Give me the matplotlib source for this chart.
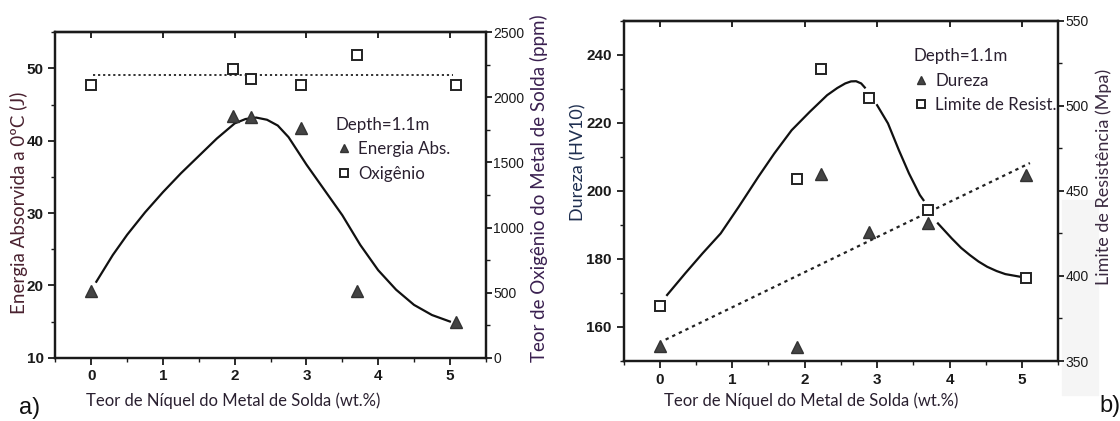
import matplotlib
matplotlib.use("Agg")
import matplotlib.pyplot as plt
from matplotlib.ticker import MultipleLocator
from matplotlib.patches import Rectangle
import numpy as np

# ---------------- data: panel a ----------------
energy_x = [0.0, 1.97, 2.22, 2.92, 3.70, 5.08]
energy_y = [19.2, 43.4, 43.3, 41.7, 19.2, 14.9]
oxygen_x = [0.0, 1.97, 2.22, 2.92, 3.70, 5.08]
oxygen_y = [2095, 2216, 2139, 2093, 2326, 2093]
energy_curve_x = [0.07, 0.3, 0.5, 0.75, 1.0, 1.25, 1.5, 1.75, 2.0, 2.15, 2.3, 2.45, 2.6, 2.75, 3.0,
                  3.25, 3.5, 3.75, 4.0, 4.25, 4.5, 4.75, 5.0]
energy_curve_y = [20.5, 24.2, 27.0, 30.1, 32.9, 35.5, 37.9, 40.3, 42.4, 43.0, 43.2, 42.9, 42.1, 40.5, 36.7,
                  33.2, 29.7, 25.6, 22.1, 19.4, 17.3, 15.9, 15.0]
oxygen_trend_x = [0.03, 5.05]
oxygen_trend_y = [2175, 2175]

# ---------------- data: panel b ----------------
dureza_x = [0.0, 1.89, 2.22, 2.89, 3.70, 5.06]
dureza_y = [154.3, 154.1, 205.0, 187.8, 190.6, 204.6]
limite_x = [0.0, 1.89, 2.22, 2.89, 3.70, 5.06]
limite_y = [382.3, 457.3, 521.6, 504.4, 438.7, 399.0]
limite_curve_x = [0.10, 0.35, 0.59, 0.84, 1.09, 1.36, 1.58, 1.82, 2.07, 2.31, 2.45, 2.56, 2.64, 2.71, 2.78, 2.83, np.nan,
                  3.00, 3.15, 3.30, 3.44, 3.59, 3.64, np.nan,
                  3.84, 4.03, 4.16, 4.28, 4.40, 4.52, 4.65, 4.77, 5.02]
limite_curve_y = [388.8, 401.5, 413.3, 425.0, 440.7, 458.3, 472.0, 485.7, 496.5, 506.3, 510.5, 513.2, 514.4, 514.5, 513.2, 510.8, np.nan,
                  500.4, 489.7, 474.0, 460.3, 447.6, 444.6, np.nan,
                  430.9, 422.1, 416.5, 412.3, 408.5, 405.4, 402.9, 401.1, 399.2]
dureza_trend_x = [0.08, 5.11]
dureza_trend_y = [156.3, 208.2]

x_ticks = [0, 1, 2, 3, 4, 5]

plt.rcParams["font.family"] = ["Liberation Sans Narrow", "Liberation Sans", "DejaVu Sans"]
plt.rcParams["font.weight"] = "bold"

LABEL_FONT = ["Lato", "DejaVu Sans"]
TXT = "#2a2030"
W, H = 1120, 421

fig = plt.figure(figsize=(11.2, 4.21), dpi=100)


def style_axes(ax, ax2):
    for a in (ax, ax2):
        for s in a.spines.values():
            s.set_linewidth(1.6)
            s.set_color("#1a1a1a")
    ax.tick_params(axis="both", which="major", direction="out", length=5, width=1.3,
                   labelsize=11, colors="#1a1a1a")
    ax.tick_params(axis="both", which="minor", direction="out", length=3, width=1.0, colors="#1a1a1a")
    ax2.tick_params(axis="y", which="major", direction="out", length=4, width=1.3, pad=1.5,
                    labelsize=10, colors="#1a1a1a")
    ax2.tick_params(axis="y", which="minor", direction="out", length=3, width=1.0, colors="#1a1a1a")
    ax.xaxis.set_minor_locator(MultipleLocator(0.5))
    sec = ax.secondary_xaxis("top")
    sec.set_xticks(x_ticks)
    sec.tick_params(direction="in", length=4, width=1.2, labeltop=False)
    sec.spines["top"].set_linewidth(1.6)
    for lab in ax.get_xticklabels() + ax.get_yticklabels():
        lab.set_fontweight("bold")
    for lab in ax2.get_yticklabels():
        lab.set_fontweight("normal")


def put_label(text, cx, cy, size, color, rot=0):
    fig.text(cx / W, 1 - cy / H, text, family=LABEL_FONT, fontsize=size, color=color,
             fontweight="normal", rotation=rot, ha="center", va="center")


def legend(ax, handles, labels, anchor):
    lg = ax.legend(handles, labels, title="Depth=1.1m", loc="upper left",
                   bbox_to_anchor=anchor, frameon=False, alignment="left", borderpad=0,
                   borderaxespad=0, handlelength=0.9, handletextpad=0.4, labelspacing=0.5,
                   markerscale=0.75,
                   prop={"family": LABEL_FONT, "size": 12.2, "weight": "normal"},
                   title_fontproperties={"family": LABEL_FONT, "size": 12.2, "weight": "normal"})
    for t in lg.get_texts():
        t.set_color(TXT)
    lg.get_title().set_color(TXT)
    return lg


# ================= panel a =================
axa = fig.add_axes([0.0495, 0.1504, 0.3842, 0.773])
axa2 = axa.twinx()
axa.set_xlim(-0.5, 5.5)
axa.set_ylim(10, 55)
axa2.set_ylim(0, 2500)
axa.set_xticks(x_ticks)
axa.set_yticks([10, 20, 30, 40, 50])
axa.yaxis.set_minor_locator(MultipleLocator(5))
axa2.set_yticks([0, 500, 1000, 1500, 2000, 2500])
axa2.yaxis.set_minor_locator(MultipleLocator(250))

axa.plot(energy_curve_x, energy_curve_y, color="#111111", lw=1.6, zorder=2)
axa2.plot(oxygen_trend_x, oxygen_trend_y, color="#222222", lw=1.3, ls=(0, (1.2, 1.6)), zorder=2)
h1, = axa.plot(energy_x, energy_y, ls="none", marker="^", ms=8.5, color="#444444",
               markeredgecolor="#333333", zorder=3, label="Energia Abs.")
h2, = axa2.plot(oxygen_x, oxygen_y, ls="none", marker="s", ms=7, markerfacecolor="white",
                markeredgecolor="#222222", markeredgewidth=1.4, zorder=3, label="Oxigênio")
style_axes(axa, axa2)

put_label("Teor de Níquel do Metal de Solda (wt.%)", 233, 401, 12, TXT)
put_label("Energia Absorvida a 0ºC (J)", 19, 203, 13.5, "#4a2230", 90)
put_label("Teor de Oxigênio do Metal de Solda (ppm)", 539, 188, 13.5, "#3a2050", 90)

legend(axa2, [h1, h2], ["Energia Abs.", "Oxigênio"], (0.652, 0.74))

# ================= panel b =================
axb = fig.add_axes([0.5568, 0.1425, 0.388, 0.808])
axb2 = axb.twinx()
axb.set_xlim(-0.5, 5.5)
axb.set_ylim(150, 250)
axb2.set_ylim(350, 550)
axb.set_xticks(x_ticks)
axb.set_yticks([160, 180, 200, 220, 240])
axb.yaxis.set_minor_locator(MultipleLocator(10))
axb2.set_yticks([350, 400, 450, 500, 550])
axb2.yaxis.set_minor_locator(MultipleLocator(25))

axb2.plot(limite_curve_x, limite_curve_y, color="#111111", lw=1.6, zorder=2)
axb.plot(dureza_trend_x, dureza_trend_y, color="#222222", lw=1.6, ls=(0, (1.5, 1.8)), zorder=2)
g1, = axb.plot(dureza_x, dureza_y, ls="none", marker="^", ms=8.5, color="#444444",
               markeredgecolor="#333333", zorder=3, label="Dureza")
g2, = axb2.plot(limite_x, limite_y, ls="none", marker="s", ms=7, markerfacecolor="white",
                markeredgecolor="#222222", markeredgewidth=1.4, zorder=3, label="Limite de Resist.")
style_axes(axb, axb2)

put_label("Teor de Níquel do Metal de Solda (wt.%)", 811, 401, 12, TXT)
put_label("Dureza (HV10)", 578, 162, 13, "#1f2f50", 90)
put_label("Limite de Resistência (Mpa)", 1104, 177, 13, "#3a2a40", 90)

legend(axb2, [g1, g2], ["Dureza", "Limite de Resist."], (0.667, 0.92))

# light grey scan patch right of panel b
fig.patches.append(Rectangle((1062 / W, 1 - 395 / H), 36 / W, 195 / H,
                             transform=fig.transFigure, color="#f5f5f5", zorder=-1))

fig.text(30 / W, 1 - 408 / H, "a)", family=["Liberation Sans", "DejaVu Sans"], fontsize=17,
         fontweight="normal", ha="center", va="center", color="#111111")
fig.text(1110 / W, 1 - 406 / H, "b)", family=["Liberation Sans", "DejaVu Sans"], fontsize=17,
         fontweight="normal", ha="center", va="center", color="#111111")

fig.savefig("out.png", dpi=100)
